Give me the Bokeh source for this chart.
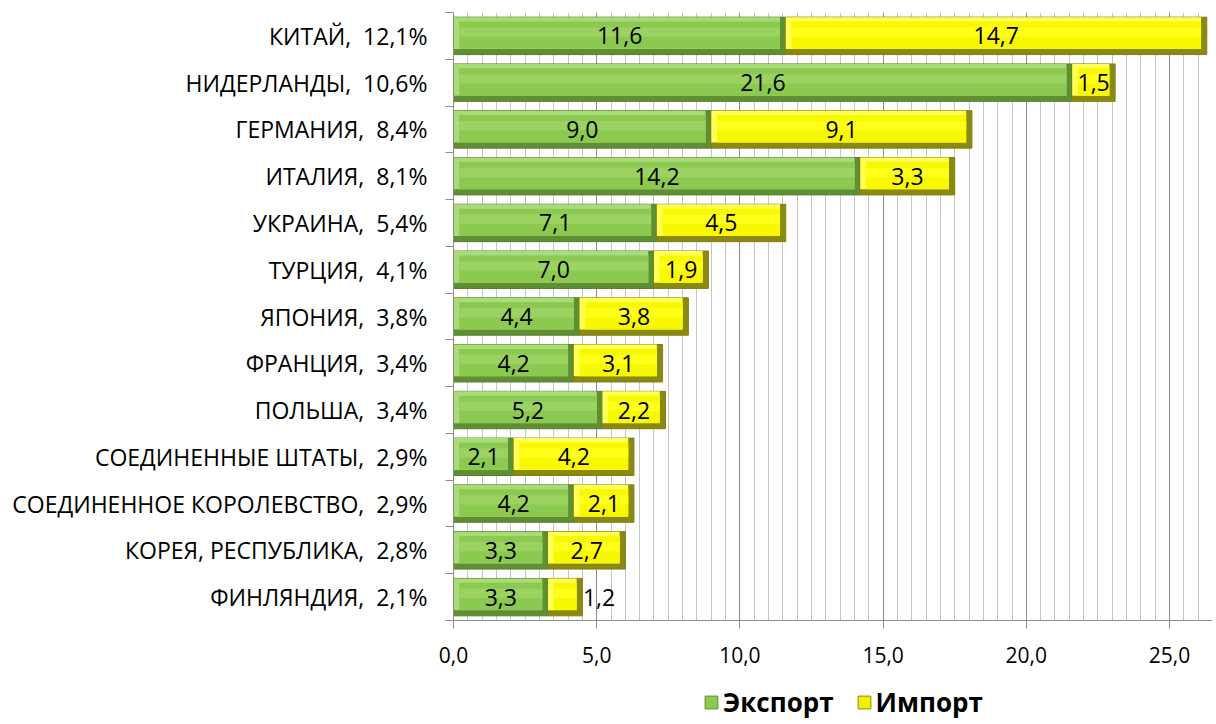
from bokeh.plotting import figure
from bokeh.models import (ColumnDataSource, FixedTicker, Range1d, Legend, LegendItem)
from bokeh.layouts import column
from bokeh.embed import file_html
from bokeh.resources import INLINE
from bokeh.core.properties import value

countries = ["КИТАЙ,\u00a0 12,1%", "НИДЕРЛАНДЫ,\u00a0 10,6%", "ГЕРМАНИЯ,\u00a0 8,4%", "ИТАЛИЯ,\u00a0 8,1%",
             "УКРАИНА,\u00a0 5,4%", "ТУРЦИЯ,\u00a0 4,1%", "ЯПОНИЯ,\u00a0 3,8%", "ФРАНЦИЯ,\u00a0 3,4%",
             "ПОЛЬША,\u00a0 3,4%", "СОЕДИНЕННЫЕ ШТАТЫ,\u00a0 2,9%", "СОЕДИНЕННОЕ КОРОЛЕВСТВО,\u00a0 2,9%",
             "КОРЕЯ, РЕСПУБЛИКА,\u00a0 2,8%", "ФИНЛЯНДИЯ,\u00a0 2,1%"]
export = [11.6, 21.6, 9.0, 14.2, 7.1, 7.0, 4.4, 4.2, 5.2, 2.1, 4.2, 3.3, 3.3]
imports = [14.7, 1.5, 9.1, 3.3, 4.5, 1.9, 3.8, 3.1, 2.2, 4.2, 2.1, 2.7, 1.2]
x_ticks = [0, 5, 10, 15, 20, 25]
x_tick_labels = ["0,0", "5,0", "10,0", "15,0", "20,0", "25,0"]
series_names = ["Экспорт", "Импорт"]

n = len(countries)
ys = [n - 1 - i for i in range(n)]

def fmt(v):
    return f"{v:.1f}".replace(".", ",")

FONT = "Open Sans"
H = 0.8
DX = 0.2     # bevel width (x, data units)
DY = 0.12    # bevel height (y, data units)

ends = [e + m for e, m in zip(export, imports)]
src = ColumnDataSource(dict(
    y=ys, exp=export, imp=imports, end=ends,
    zero=[0] * n,
    y_lt=[y + DY / 2 for y in ys],
    exp_lt_r=[e - DX for e in export],
    imp_lt_r=[t - DX for t in ends],
    exp_l=[DX for _ in export], exp_r=[e - DX for e in export],
    imp_l=[e + DX for e in export], imp_r=[t - DX for t in ends],
    y_face=[y + 0.12 * DY for y in ys],
    y_hi=[y + 0.08 for y in ys],
    exp_lab=[fmt(v) for v in export],
    imp_lab=[fmt(v) for v in imports],
    exp_x=[e / 2 for e in export],
    imp_x=[e + m / 2 if m >= 1.3 else t + 0.02 for e, m, t in zip(export, imports, ends)],
    imp_align=["center" if m >= 1.3 else "left" for m in imports],
))

p = figure(width=1212, height=684, output_backend="svg", toolbar_location=None,
           x_range=Range1d(0, 26.5), y_range=Range1d(-0.5, n - 0.5),
           min_border_left=453, min_border_right=0, min_border_top=12, min_border_bottom=64)
p.outline_line_color = None
p.background_fill_color = "white"

FACE_H = H - 1.8 * DY

# export bars (bevelled)
p.hbar(y="y", left="zero", right="exp", height=H, source=src,
       fill_color="#5F8E33", line_color="#557F2D", line_width=1)
p.hbar(y="y_lt", left="zero", right="exp_lt_r", height=H - DY, source=src,
       fill_color="#A9DC78", line_color=None)
p.hbar(y="y_face", left="exp_l", right="exp_r", height=FACE_H, source=src,
       fill_color="#8CC950", line_color=None)
p.hbar(y="y_hi", left="exp_l", right="exp_r", height=0.2, source=src,
       fill_color="#9BD262", line_color=None)

# import bars (bevelled)
p.hbar(y="y", left="exp", right="end", height=H, source=src,
       fill_color="#8A8A10", line_color="#80800F", line_width=1)
p.hbar(y="y_lt", left="exp", right="imp_lt_r", height=H - DY, source=src,
       fill_color="#FFFF55", line_color=None)
p.hbar(y="y_face", left="imp_l", right="imp_r", height=FACE_H, source=src,
       fill_color="#F8F800", line_color=None)
p.hbar(y="y_hi", left="imp_l", right="imp_r", height=0.2, source=src,
       fill_color="#FFFF1A", line_color=None)

p.text(x="exp_x", y="y", text="exp_lab", source=src, text_align="center",
       text_baseline="middle", text_font=value(FONT), text_font_size="23px", text_color="black")
p.text(x="imp_x", y="y", text="imp_lab", source=src, text_align="imp_align",
       text_baseline="middle", text_font=value(FONT), text_font_size="23px", text_color="black")

# x axis & grid
minor = [i * 0.5 for i in range(0, 54)]
p.xaxis.ticker = FixedTicker(ticks=x_ticks, minor_ticks=minor)
p.xaxis.major_label_overrides = {t: l for t, l in zip(x_ticks, x_tick_labels)}
p.xaxis.major_label_text_font = FONT
p.xaxis.major_label_text_font_size = "21px"
p.xaxis.major_label_text_color = "black"
p.xaxis.axis_line_color = "#8C8C8C"
p.xaxis.major_tick_line_color = "#8C8C8C"
p.xaxis.major_tick_out = 8
p.xaxis.major_tick_in = 0
p.xaxis.minor_tick_line_color = None
p.xaxis.major_label_standoff = 18
p.xgrid.grid_line_color = "#8C8C8C"
p.xgrid.minor_grid_line_color = "#C6C6C6"
p.ygrid.grid_line_color = None

# y axis
p.yaxis.ticker = FixedTicker(ticks=ys, minor_ticks=[i - 0.5 for i in range(n + 1)])
p.yaxis.major_label_overrides = {y: c for y, c in zip(ys, countries)}
p.yaxis.major_label_text_font = FONT
p.yaxis.major_label_text_font_size = "23px"
p.yaxis.major_label_text_color = "black"
p.yaxis.axis_line_color = "#8C8C8C"
p.yaxis.major_tick_line_color = None
p.yaxis.minor_tick_line_color = "#8C8C8C"
p.yaxis.minor_tick_out = 8
p.yaxis.minor_tick_in = 0
p.yaxis.major_label_standoff = 18

# legend in a strip below the chart (frame aligned with the chart frame)
lg = figure(width=1212, height=38, output_backend="svg", toolbar_location=None,
            x_axis_type=None, y_axis_type=None, min_border=0,
            x_range=Range1d(0, 1), y_range=Range1d(0, 1))
lg.outline_line_color = None
lg.xgrid.grid_line_color = None
lg.ygrid.grid_line_color = None
# swatch renderers kept outside the visible range; only their legend glyphs show
r_exp = lg.hbar(y=[-5], left=[0], right=[1], height=1, fill_color="#8CC950", line_color="#5F8E33")
r_imp = lg.hbar(y=[-5], left=[0], right=[1], height=1, fill_color="#F0F000", line_color="#8C8C00")
legend = Legend(items=[LegendItem(label=series_names[0], renderers=[r_exp]),
                       LegendItem(label=series_names[1], renderers=[r_imp])],
                orientation="horizontal", location=(250, 2),
                label_text_font=FONT, label_text_font_style="bold",
                label_text_font_size="26px", label_text_color="black",
                glyph_width=16, glyph_height=16,
                label_standoff=4, spacing=22, border_line_color=None,
                background_fill_alpha=0, padding=0, margin=0, label_height=34)
lg.add_layout(legend)

open("out.html", "w").write(file_html(column(p, lg, spacing=0), INLINE))
